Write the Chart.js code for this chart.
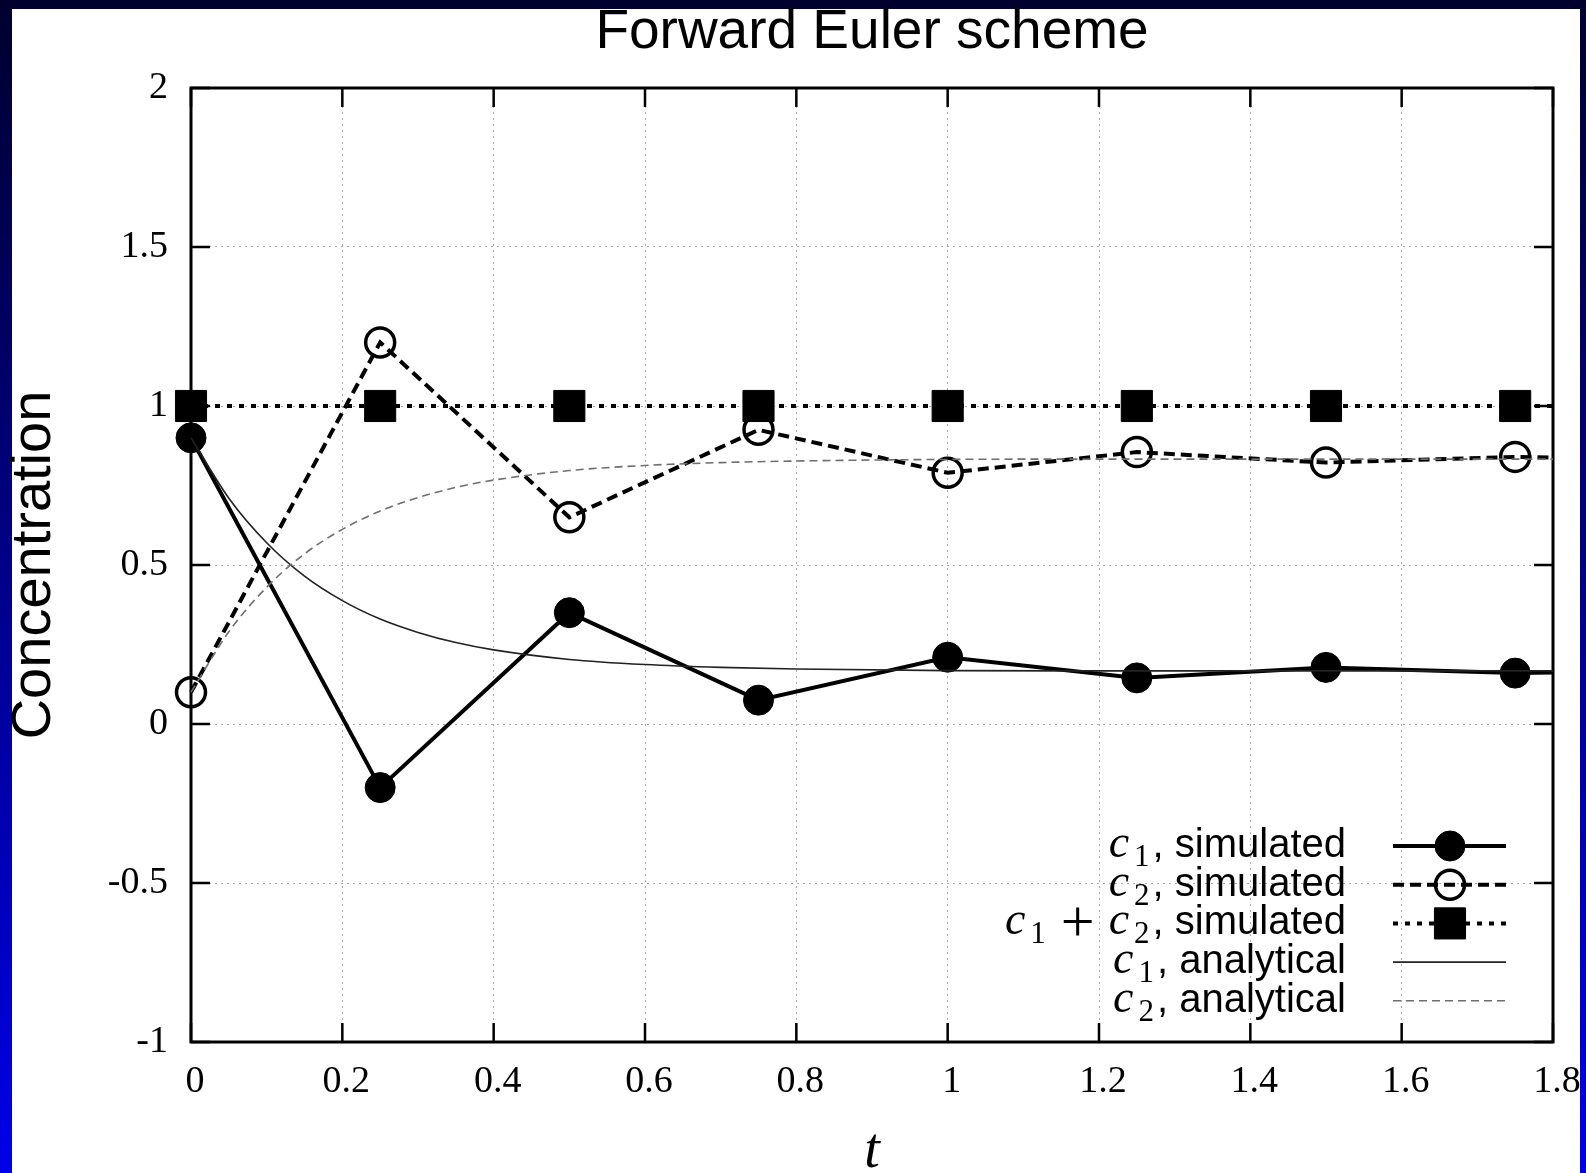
<!DOCTYPE html>
<html>
<head>
<meta charset="utf-8">
<title>Forward Euler scheme</title>
<script src="https://cdn.jsdelivr.net/npm/chart.js@4.4.1/dist/chart.umd.min.js"></script>
<style>
  html, body { margin: 0; padding: 0; }
  body {
    width: 1586px;
    height: 1173px;
    overflow: hidden;
    position: relative;
    background: linear-gradient(to bottom, #00002e, #0000e8);
  }
  #paper { position: absolute; left: 12px; top: 9px; width: 1568px; height: 1164px; background: #fff; }
  #myChart { position: absolute; left: 0; top: 0; }
</style>
</head>
<body>
<div id="paper"></div>
<canvas id="myChart" width="1586" height="1173"></canvas>
<script>
// simulated values (forward Euler, dt = 0.25), last point lies past the right edge
const tSim = [0, 0.25, 0.5, 0.75, 1.0, 1.25, 1.5, 1.75, 2.0];
const c1Sim = [0.9, -0.2, 0.35, 0.075, 0.21, 0.145, 0.178, 0.16, 0.17];
const c2Sim = [0.1, 1.2, 0.65, 0.925, 0.79, 0.855, 0.822, 0.84, 0.83];
const sumSim = [1, 1, 1, 1, 1, 1, 1, 1, 1];

// analytical curves
const tExact = [0, 0.05, 0.1, 0.15, 0.2, 0.25, 0.3, 0.35, 0.4, 0.5, 0.6, 0.7, 0.8, 1.0, 1.2, 1.5, 1.8];
const c1Exact = [0.9, 0.71, 0.57, 0.465, 0.388, 0.33, 0.288, 0.256, 0.233, 0.203, 0.187, 0.178, 0.173, 0.168, 0.167, 0.167, 0.167];
const c2Exact = [0.1, 0.29, 0.43, 0.535, 0.612, 0.67, 0.712, 0.744, 0.767, 0.797, 0.813, 0.822, 0.827, 0.832, 0.833, 0.833, 0.833];

const xTicks = [0, 0.2, 0.4, 0.6, 0.8, 1.0, 1.2, 1.4, 1.6, 1.8];
const xTickLabels = ["0", "0.2", "0.4", "0.6", "0.8", "1", "1.2", "1.4", "1.6", "1.8"];
const yTicks = [-1, -0.5, 0, 0.5, 1, 1.5, 2];
const yTickLabels = ["-1", "-0.5", "0", "0.5", "1", "1.5", "2"];

// legend entries: subscripts of the c terms, then the plain text
const legendTerms = [["1"], ["2"], ["1", "2"], ["1"], ["2"]];
const legendText = [", simulated", ", simulated", ", simulated", ", analytical", ", analytical"];

const serif = '"Liberation Serif", "Times New Roman", serif';
const sans = '"Liberation Sans", Arial, sans-serif';

const toPoints = (xs, ys) => xs.map((x, i) => ({ x: x, y: ys[i] }));

const tickLen = 19;

// gnuplot style box with inward ticks on all four sides
const framePlugin = {
  id: "frame",
  beforeDatasetsDraw(chart) {
    const { ctx, chartArea: a, scales } = chart;
    ctx.save();
    ctx.strokeStyle = "#000";
    ctx.lineWidth = 2.5;
    ctx.beginPath();
    xTicks.forEach((v) => {
      const px = scales.x.getPixelForValue(v);
      ctx.moveTo(px, a.bottom);
      ctx.lineTo(px, a.bottom - tickLen);
      ctx.moveTo(px, a.top);
      ctx.lineTo(px, a.top + tickLen);
    });
    yTicks.forEach((v) => {
      const py = scales.y.getPixelForValue(v);
      ctx.moveTo(a.left, py);
      ctx.lineTo(a.left + tickLen, py);
      ctx.moveTo(a.right, py);
      ctx.lineTo(a.right - tickLen, py);
    });
    ctx.stroke();
    ctx.lineWidth = 3;
    ctx.strokeRect(a.left, a.top, a.right - a.left, a.bottom - a.top);
    ctx.restore();
  },
};

const drawMarker = (ctx, ds, x, y) => {
  const r = ds.pointRadius;
  if (!r) return;
  ctx.setLineDash([]);
  ctx.fillStyle = ds.pointBackgroundColor;
  ctx.strokeStyle = ds.pointBorderColor;
  ctx.lineWidth = ds.pointBorderWidth;
  ctx.beginPath();
  if (ds.pointStyle === "rect") {
    const s = r * Math.SQRT1_2;
    ctx.rect(x - s, y - s, 2 * s, 2 * s);
  } else {
    ctx.arc(x, y, r, 0, Math.PI * 2);
  }
  ctx.fill();
  ctx.stroke();
};

// legend with italic c and subscripts, right aligned inside the plot
const legendPlugin = {
  id: "mathLegend",
  afterDraw(chart) {
    const { ctx } = chart;
    const textRight = 1346;
    const lineX0 = 1393;
    const lineX1 = 1506;
    const markX = 1450;
    ctx.save();
    ctx.textAlign = "left";
    ctx.textBaseline = "alphabetic";
    legendTerms.forEach((terms, i) => {
      const base = 857 + i * 38.7;
      const parts = [];
      terms.forEach((sub, k) => {
        if (k > 0) parts.push({ s: "+", font: "60px " + serif, dy: 7, gap: 12 });
        parts.push({ s: "c", font: "italic 46px " + serif, dy: 0, gap: 2 });
        parts.push({ s: sub, font: "31px " + serif, dy: 9, gap: 3 });
      });
      parts.push({ s: legendText[i], font: "40px " + sans, dy: 0, gap: 0 });

      let width = 0;
      parts.forEach((p) => {
        ctx.font = p.font;
        p.w = ctx.measureText(p.s).width;
        width += p.w + 2 * p.gap;
      });
      let x = textRight - width;
      ctx.fillStyle = "#000";
      parts.forEach((p) => {
        x += p.gap;
        ctx.font = p.font;
        ctx.fillText(p.s, x, base + p.dy);
        x += p.w + p.gap;
      });

      const ds = chart.data.datasets[i];
      const y = base - 11;
      ctx.strokeStyle = ds.borderColor;
      ctx.lineWidth = ds.borderWidth;
      ctx.setLineDash(ds.borderDash || []);
      ctx.beginPath();
      ctx.moveTo(lineX0, y);
      ctx.lineTo(lineX1, y);
      ctx.stroke();
      drawMarker(ctx, ds, markX, y);
    });
    ctx.restore();
  },
};

const ctx = document.getElementById("myChart").getContext("2d");
const clip = { left: 40, top: 40, right: 0, bottom: 40 };

const chart = new Chart(ctx, {
  type: "line",
  data: {
    datasets: [
      {
        label: "c1, simulated",
        data: toPoints(tSim, c1Sim),
        borderColor: "#000",
        borderWidth: 4,
        pointStyle: "circle",
        pointRadius: 15,
        pointBackgroundColor: "#000",
        pointBorderColor: "#000",
        pointBorderWidth: 1,
        clip: clip,
        order: 5,
      },
      {
        label: "c2, simulated",
        data: toPoints(tSim, c2Sim),
        borderColor: "#000",
        borderWidth: 4,
        borderDash: [11, 6],
        pointStyle: "circle",
        pointRadius: 14.5,
        pointBackgroundColor: "rgba(0,0,0,0)",
        pointBorderColor: "#000",
        pointBorderWidth: 3.5,
        clip: clip,
        order: 4,
      },
      {
        label: "c1 + c2, simulated",
        data: toPoints(tSim, sumSim),
        borderColor: "#000",
        borderWidth: 4,
        borderDash: [5, 7],
        pointStyle: "rect",
        pointRadius: 22,
        pointBackgroundColor: "#000",
        pointBorderColor: "#000",
        pointBorderWidth: 1,
        clip: clip,
        order: 3,
      },
      {
        label: "c1, analytical",
        data: toPoints(tExact, c1Exact),
        borderColor: "#222",
        borderWidth: 1.6,
        pointRadius: 0,
        cubicInterpolationMode: "monotone",
        clip: clip,
        order: 2,
      },
      {
        label: "c2, analytical",
        data: toPoints(tExact, c2Exact),
        borderColor: "#6e6e6e",
        borderWidth: 1.6,
        borderDash: [8, 5],
        pointRadius: 0,
        cubicInterpolationMode: "monotone",
        clip: clip,
        order: 1,
      },
    ],
  },
  options: {
    responsive: false,
    animation: false,
    events: [],
    layout: { padding: { left: 0, right: 33, top: 0, bottom: 0 } },
    elements: { line: { fill: false, tension: 0 } },
    plugins: {
      legend: { display: false },
      tooltip: { enabled: false },
      title: {
        display: true,
        text: "Forward Euler scheme",
        fullSize: false,
        color: "#000",
        font: { family: sans, size: 55, weight: "normal", lineHeight: 1 },
        padding: { top: 5, bottom: 28 },
      },
    },
    scales: {
      x: {
        type: "linear",
        min: 0,
        max: 1.8,
        afterBuildTicks: (axis) => {
          axis.ticks = xTicks.map((v) => ({ value: v }));
        },
        afterFit: (axis) => {
          axis.height = 131;
          axis.paddingLeft = 0;
          axis.paddingRight = 0;
        },
        ticks: {
          callback: (v, i) => xTickLabels[i],
          color: "#000",
          font: { family: serif, size: 38 },
          padding: 17,
          labelOffset: 4,
          maxRotation: 0,
          autoSkip: false,
        },
        grid: { color: "#aaaaaa", lineWidth: 1, drawTicks: false },
        border: { display: false, dash: [2, 4] },
        title: {
          display: true,
          text: "t",
          color: "#000",
          font: { family: serif, size: 56, style: "italic", lineHeight: 0.75 },
          padding: 0,
        },
      },
      y: {
        type: "linear",
        min: -1,
        max: 2,
        afterBuildTicks: (axis) => {
          axis.ticks = yTicks.map((v) => ({ value: v }));
        },
        afterFit: (axis) => {
          axis.width = 191;
          axis.paddingTop = 0;
          axis.paddingBottom = 0;
        },
        ticks: {
          callback: (v, i) => yTickLabels[i],
          color: "#000",
          font: { family: serif, size: 38 },
          padding: 23,
          autoSkip: false,
        },
        grid: { color: "#aaaaaa", lineWidth: 1, drawTicks: false },
        border: { display: false, dash: [2, 4] },
        title: {
          display: true,
          text: "Concentration",
          color: "#000",
          font: { family: sans, size: 56, lineHeight: 1.2 },
          padding: { top: 1, bottom: 0 },
        },
      },
    },
  },
  plugins: [framePlugin, legendPlugin],
});
</script>
</body>
</html>
